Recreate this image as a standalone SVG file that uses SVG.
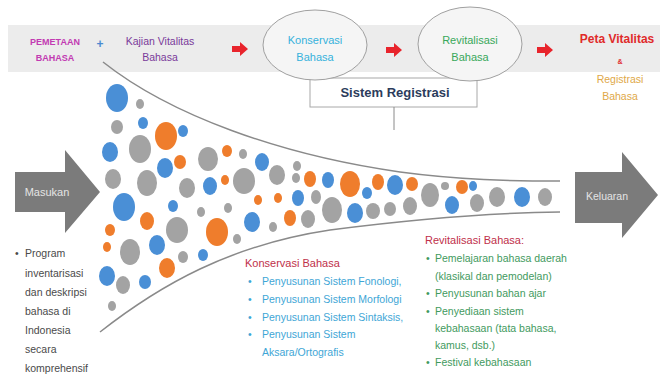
<svg xmlns="http://www.w3.org/2000/svg" width="660" height="378" viewBox="0 0 660 378">
<defs>
<style>
text{font-family:"Liberation Sans",Arial,sans-serif;}
.b{fill:#4a8fd6;}
.o{fill:#ef7d2c;}
.g{fill:#a3a3a3;}
.ell{fill:#f5f5f5;stroke:#a0a0a0;stroke-width:1;}
.ra{fill:#e8242c;}
.big{fill:#7b7b7b;}
.curve{fill:none;stroke:#8a8a8a;stroke-width:1.5;}
.body{font-size:10.5px;fill:#4a4a4a;}
.kon{font-size:10.5px;fill:#3ea6d6;}
.rev{font-size:10.5px;fill:#3f9a5e;}
.head{font-size:11px;fill:#c0304a;}
</style>
</defs>
<rect x="0" y="0" width="660" height="378" fill="#ffffff"/>
<rect x="8" y="25" width="652" height="47" fill="#ececec"/>

<g id="pemetaan">
<text x="55" y="45" text-anchor="middle" font-size="9" font-weight="bold" fill="#c23ab2">PEMETAAN</text>
<text x="55" y="61" text-anchor="middle" font-size="9" font-weight="bold" fill="#c23ab2">BAHASA</text>
</g>
<g id="plus"><text x="100" y="48" text-anchor="middle" font-size="12" font-weight="bold" fill="#4a8ad0">+</text></g>
<g id="kajian">
<text x="160" y="45" text-anchor="middle" font-size="10.5" fill="#7a3a9a">Kajian Vitalitas</text>
<text x="160" y="61" text-anchor="middle" font-size="10.5" fill="#7a3a9a">Bahasa</text>
</g>

<g id="registrasi">
<rect x="310" y="78" width="167" height="29" fill="#ffffff" stroke="#a8a8a8" stroke-width="1"/>
<text x="395" y="97" text-anchor="middle" font-size="13" font-weight="bold" fill="#2c3c5c">Sistem Registrasi</text>
</g>

<g id="konservasi">
<ellipse class="ell" cx="315" cy="45" rx="52" ry="35"/>
<text x="315" y="44" text-anchor="middle" font-size="11" fill="#36b2dc">Konservasi</text>
<text x="315" y="61" text-anchor="middle" font-size="11" fill="#36b2dc">Bahasa</text>
</g>
<g id="revitalisasi">
<ellipse class="ell" cx="470" cy="44" rx="52" ry="37"/>
<text x="470" y="44" text-anchor="middle" font-size="11" fill="#38a85a">Revitalisasi</text>
<text x="470" y="61" text-anchor="middle" font-size="11" fill="#38a85a">Bahasa</text>
</g>

<g id="peta">
<text x="617" y="43" text-anchor="middle" font-size="12" font-weight="bold" fill="#e02a2a">Peta Vitalitas</text>
<text x="620" y="64" text-anchor="middle" font-size="7" font-weight="bold" fill="#e02a2a">&amp;</text>
<text x="620" y="83" text-anchor="middle" font-size="10.5" fill="#e0a848">Registrasi</text>
<text x="620" y="100" text-anchor="middle" font-size="10.5" fill="#e0a848">Bahasa</text>
</g>

<g id="masukan">
<path class="big" d="M15,172 H65 V150 L100,192 L65,233 V212 H15 Z"/>
<text x="47" y="196" text-anchor="middle" font-size="11" fill="#e4e4e4">Masukan</text>
</g>
<g id="keluaran">
<path class="big" d="M575,172 H622 V152 L658,195 L622,238 V223 H575 Z"/>
<text x="607" y="200" text-anchor="middle" font-size="10.5" fill="#e4e4e4">Keluaran</text>
</g>

<g id="connectors">
<path class="ra" d="M232,46 H240 V42 L248,49 L240,56 V52 H232 Z"/>
<path class="ra" d="M386,47 H394 V43 L402,50 L394,57 V53 H386 Z"/>
<path class="ra" d="M537,47 H545 V43 L553,50 L545,57 V53 H537 Z"/>
<line x1="394" y1="107" x2="394" y2="130" stroke="#8a8a8a" stroke-width="1"/>
<path class="curve" d="M103,62 C170,115 280,155 400,172 C460,180 510,181 560,181"/>
<path class="curve" d="M100,332 C160,285 230,245 330,230 C400,221 480,213 560,212"/>
</g>

<g id="circles">
<ellipse class="b" cx="117" cy="98" rx="11" ry="14"/>
<ellipse class="g" cx="140" cy="104" rx="4" ry="5"/>
<ellipse class="g" cx="117" cy="127" rx="6" ry="7"/>
<ellipse class="b" cx="143" cy="123" rx="5" ry="6"/>
<ellipse class="o" cx="166" cy="136" rx="11" ry="14"/>
<ellipse class="b" cx="183" cy="131" rx="5" ry="6"/>
<ellipse class="b" cx="110" cy="152" rx="8" ry="10"/>
<ellipse class="g" cx="140" cy="149" rx="11" ry="14"/>
<ellipse class="b" cx="165" cy="168" rx="8" ry="10"/>
<ellipse class="o" cx="180" cy="162" rx="6" ry="7"/>
<ellipse class="g" cx="208" cy="159" rx="10" ry="12"/>
<ellipse class="o" cx="227" cy="151" rx="5" ry="6"/>
<ellipse class="g" cx="243" cy="154" rx="4" ry="5"/>
<ellipse class="b" cx="262" cy="162" rx="7" ry="9"/>
<ellipse class="g" cx="297" cy="166" rx="4" ry="5"/>
<ellipse class="g" cx="113" cy="179" rx="8" ry="10"/>
<ellipse class="g" cx="147" cy="183" rx="10" ry="13"/>
<ellipse class="g" cx="187" cy="188" rx="8" ry="10"/>
<ellipse class="b" cx="210" cy="186" rx="7" ry="9"/>
<ellipse class="o" cx="225" cy="180" rx="4" ry="5"/>
<ellipse class="g" cx="244" cy="181" rx="11" ry="13"/>
<ellipse class="g" cx="277" cy="175" rx="8" ry="10"/>
<ellipse class="o" cx="310" cy="179" rx="6" ry="8"/>
<ellipse class="g" cx="296" cy="178" rx="4" ry="5"/>
<ellipse class="b" cx="328" cy="180" rx="6" ry="8"/>
<ellipse class="b" cx="124" cy="207" rx="11" ry="14"/>
<ellipse class="b" cx="173" cy="206" rx="5" ry="6"/>
<ellipse class="g" cx="201" cy="212" rx="4" ry="5"/>
<ellipse class="o" cx="258" cy="200" rx="4" ry="5"/>
<ellipse class="o" cx="278" cy="198" rx="4" ry="5"/>
<ellipse class="b" cx="298" cy="198" rx="6" ry="8"/>
<ellipse class="g" cx="316" cy="197" rx="5" ry="7"/>
<ellipse class="g" cx="332" cy="210" rx="10" ry="13"/>
<ellipse class="o" cx="147" cy="221" rx="7" ry="9"/>
<ellipse class="g" cx="177" cy="230" rx="11" ry="13"/>
<ellipse class="o" cx="217" cy="232" rx="11" ry="14"/>
<ellipse class="b" cx="252" cy="222" rx="8" ry="10"/>
<ellipse class="g" cx="228" cy="208" rx="4" ry="5"/>
<ellipse class="o" cx="290" cy="218" rx="6" ry="8"/>
<ellipse class="g" cx="308" cy="219" rx="7" ry="9"/>
<ellipse class="o" cx="110" cy="230" rx="5" ry="6"/>
<ellipse class="o" cx="107" cy="247" rx="4" ry="5"/>
<ellipse class="g" cx="130" cy="252" rx="10" ry="13"/>
<ellipse class="b" cx="157" cy="245" rx="8" ry="10"/>
<ellipse class="g" cx="183" cy="257" rx="5" ry="6"/>
<ellipse class="b" cx="203" cy="255" rx="5" ry="6"/>
<ellipse class="g" cx="237" cy="239" rx="4" ry="5"/>
<ellipse class="o" cx="167" cy="268" rx="8" ry="10"/>
<ellipse class="b" cx="107" cy="276" rx="8" ry="10"/>
<ellipse class="g" cx="123" cy="285" rx="7" ry="9"/>
<ellipse class="b" cx="145" cy="282" rx="6" ry="7"/>
<ellipse class="g" cx="112" cy="306" rx="4" ry="5"/>
<ellipse class="o" cx="350" cy="184" rx="10" ry="13"/>
<ellipse class="o" cx="378" cy="182" rx="6" ry="8"/>
<ellipse class="b" cx="395" cy="185" rx="8" ry="10"/>
<ellipse class="o" cx="412" cy="184" rx="6" ry="7"/>
<ellipse class="b" cx="367" cy="193" rx="5" ry="6"/>
<ellipse class="g" cx="273" cy="227" rx="4" ry="5"/>
<ellipse class="b" cx="355" cy="213" rx="8" ry="10"/>
<ellipse class="g" cx="373" cy="211" rx="7" ry="8"/>
<ellipse class="g" cx="390" cy="209" rx="6" ry="7"/>
<ellipse class="g" cx="410" cy="206" rx="7" ry="9"/>
<ellipse class="g" cx="430" cy="195" rx="9" ry="12"/>
<ellipse class="g" cx="445" cy="186" rx="4" ry="4" fill="#a89cb0"/>
<ellipse class="o" cx="462" cy="187" rx="6" ry="7"/>
<ellipse class="b" cx="473" cy="186" rx="4" ry="5"/>
<ellipse class="b" cx="452" cy="205" rx="7" ry="9"/>
<ellipse class="g" cx="477" cy="203" rx="7" ry="9"/>
<ellipse class="g" cx="497" cy="197" rx="8" ry="10"/>
<ellipse class="b" cx="522" cy="197" rx="8" ry="10"/>
<ellipse class="g" cx="545" cy="197" rx="7" ry="9"/>
</g>

<g id="program">
<text class="body" x="15" y="257">•</text>
<text class="body" x="25" y="257">Program</text>
<text class="body" x="25" y="277">inventarisasi</text>
<text class="body" x="25" y="296">dan deskripsi</text>
<text class="body" x="25" y="315">bahasa di</text>
<text class="body" x="25" y="334">Indonesia</text>
<text class="body" x="25" y="353">secara</text>
<text class="body" x="25" y="372">komprehensif</text>
</g>

<g id="konservasi-list">
<text class="head" x="245" y="267">Konservasi Bahasa</text>
<text class="kon" x="248" y="285">•</text><text class="kon" x="262" y="285">Penyusunan Sistem Fonologi,</text>
<text class="kon" x="248" y="303">•</text><text class="kon" x="262" y="303">Penyusunan Sistem Morfologi</text>
<text class="kon" x="248" y="321">•</text><text class="kon" x="262" y="321">Penyusunan Sistem Sintaksis,</text>
<text class="kon" x="248" y="338">•</text><text class="kon" x="262" y="338">Penyusunan Sistem</text>
<text class="kon" x="262" y="356">Aksara/Ortografis</text>
</g>

<g id="revitalisasi-list">
<text class="head" x="425" y="244">Revitalisasi Bahasa:</text>
<text class="rev" x="426" y="262">•</text><text class="rev" x="435" y="262">Pemelajaran bahasa daerah</text>
<text class="rev" x="435" y="280">(klasikal dan pemodelan)</text>
<text class="rev" x="426" y="297">•</text><text class="rev" x="435" y="297">Penyusunan bahan ajar</text>
<text class="rev" x="426" y="315">•</text><text class="rev" x="435" y="315">Penyediaan sistem</text>
<text class="rev" x="435" y="332">kebahasaan (tata bahasa,</text>
<text class="rev" x="435" y="349">kamus, dsb.)</text>
<text class="rev" x="426" y="366">•</text><text class="rev" x="435" y="366">Festival kebahasaan</text>
</g>
</svg>
